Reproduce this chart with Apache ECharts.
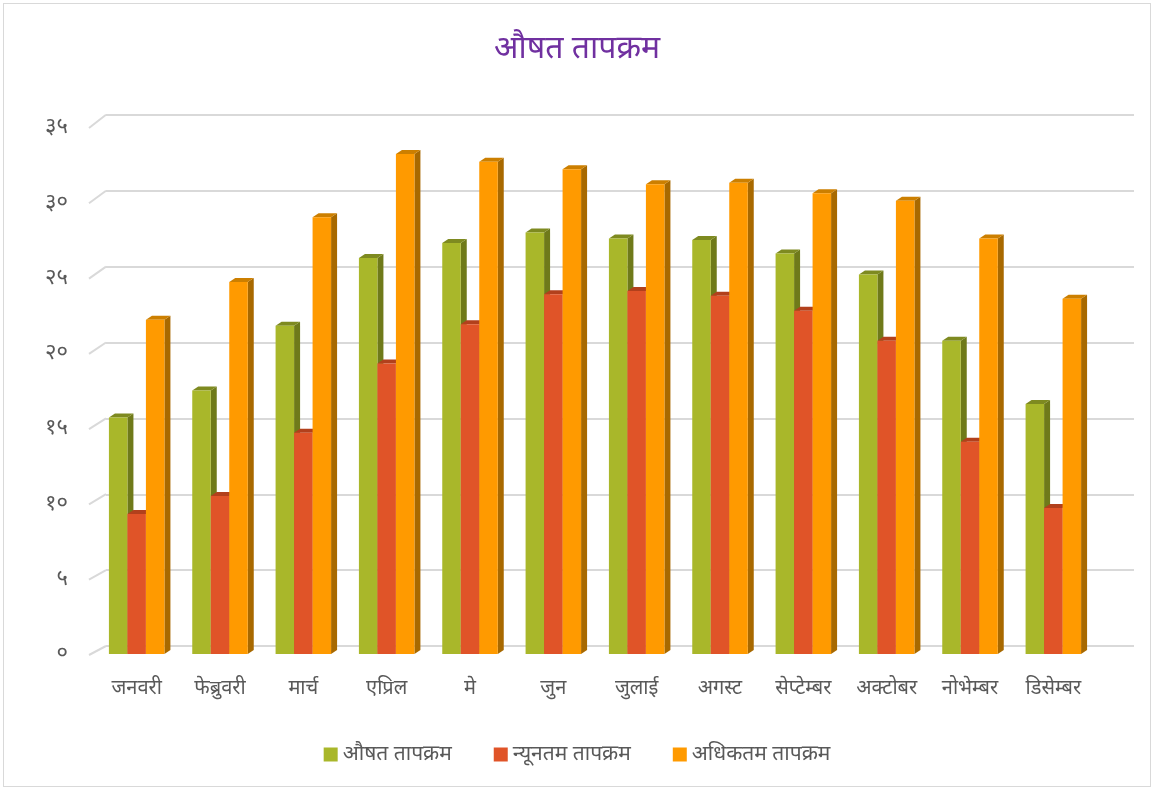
<!DOCTYPE html>
<html>
<head>
<meta charset="utf-8">
<script src="https://cdn.jsdelivr.net/npm/echarts@6/dist/echarts.min.js"></script>
<style>
  html, body { margin: 0; padding: 0; background: #fff; }
  #chart { position: absolute; left: 3px; top: 3px; width: 1148px; height: 784px; border: 1px solid #d9d9d9; box-sizing: border-box; }
</style>
</head>
<body>
<div id="chart"></div>
<script>
// महिना
var months = ['जनवरी', 'फेब्रुवरी', 'मार्च', 'एप्रिल', 'मे', 'जुन', 'जुलाई', 'अगस्ट', 'सेप्टेम्बर', 'अक्टोबर', 'नोभेम्बर', 'डिसेम्बर'];
// तापक्रम (°C)
var avgTemp = [15.7, 17.5, 21.8, 26.3, 27.3, 28.0, 27.6, 27.5, 26.6, 25.2, 20.8, 16.6];
var minTemp = [9.3, 10.5, 14.7, 19.3, 21.9, 23.9, 24.1, 23.8, 22.8, 20.8, 14.1, 9.7];
var maxTemp = [22.2, 24.7, 29.0, 33.2, 32.7, 32.2, 31.2, 31.3, 30.6, 30.1, 27.6, 23.6];
var seriesNames = ['औषत तापक्रम', 'न्यूनतम तापक्रम', 'अधिकतम तापक्रम'];
// y अक्षका अंक
var tickValues = [0, 5, 10, 15, 20, 25, 30, 35];
var tickLabels = ['०', '५', '१०', '१५', '२०', '२५', '३०', '३५'];

var FONT = 'Noto Sans, sans-serif';
var DX = 6, DY = 4; // bar depth

var palette = [
  { front: '#a9b72a', side: '#6f7a1a', top: '#7e8a20' },
  { front: '#e05428', side: '#a43a1a', top: '#b2401c' },
  { front: '#ff9a00', side: '#a86900', top: '#cc7f00' }
];

function toPairs(arr) {
  var out = [];
  for (var i = 0; i < arr.length; i++) out.push([i, arr[i]]);
  return out;
}

// 3D जस्तो स्तम्भ
function barRender(k) {
  var c = palette[k];
  return function (params, api) {
    var i = api.value(0), v = api.value(1);
    var base = api.coord([i, 0]);
    var top = api.coord([i, v]);
    var band = api.size([1, 0])[0];
    var w = band * 0.222;
    var x0 = base[0] - 1.5 * w + k * w;
    var x1 = x0 + w;
    var yb = base[1], yt = top[1];
    return {
      type: 'group',
      children: [
        { type: 'polygon', shape: { points: [[x1, yb], [x1 + DX, yb - DY], [x1 + DX, yt - DY], [x1, yt]] }, style: { fill: c.side } },
        { type: 'polygon', shape: { points: [[x0, yt], [x0 + DX, yt - DY], [x1 + DX, yt - DY], [x1, yt]] }, style: { fill: c.top } },
        { type: 'rect', shape: { x: x0, y: yt, width: w, height: yb - yt }, style: { fill: c.front } }
      ]
    };
  };
}

// ग्रिड रेखाको बायाँ तिरछा भाग
function stubRender(params, api) {
  var v = api.value(0);
  var p = api.coord([0, v]);
  var band = api.size([1, 0])[0];
  var x = p[0] - band / 2 - 6;
  return {
    type: 'line',
    shape: { x1: x, y1: p[1] + 1, x2: x + 17, y2: p[1] - 8 - v * 0.12 },
    style: { stroke: '#d9d9d9', lineWidth: 2 }
  };
}

var allSeries = [avgTemp, minTemp, maxTemp].map(function (arr, k) {
  return {
    name: seriesNames[k],
    type: 'custom',
    xAxisIndex: 0,
    yAxisIndex: 0,
    renderItem: barRender(k),
    itemStyle: { color: palette[k].front },
    encode: { x: 0, y: 1 },
    data: toPairs(arr),
    z: 3
  };
});
allSeries.unshift({
  type: 'custom',
  xAxisIndex: 0,
  yAxisIndex: 0,
  renderItem: stubRender,
  encode: { y: 0 },
  data: tickValues.map(function (v) { return [v]; }),
  silent: true,
  z: 1
});

var chart = echarts.init(document.getElementById('chart'));
chart.setOption({
  backgroundColor: '#fff',
  animation: false,
  title: {
    text: 'औषत तापक्रम',
    left: 'center',
    top: 24,
    textStyle: { color: '#7030a0', fontSize: 32, fontWeight: 'normal', fontFamily: FONT }
  },
  legend: {
    bottom: 16,
    left: 'center',
    itemGap: 42,
    itemWidth: 14,
    itemHeight: 14,
    icon: 'rect',
    data: seriesNames,
    textStyle: { color: '#595959', fontSize: 21, fontFamily: FONT }
  },
  grid: [
    { left: 91, right: 55, top: 123, bottom: 132 },
    { left: 102, right: 16, top: 111, bottom: 140 }
  ],
  xAxis: [
    {
      type: 'category',
      gridIndex: 0,
      data: months,
      axisLine: { show: false },
      axisTick: { show: false },
      axisLabel: { color: '#595959', fontSize: 20, margin: 24, fontFamily: FONT }
    },
    { type: 'value', gridIndex: 1, show: false }
  ],
  yAxis: [
    {
      type: 'value',
      gridIndex: 0,
      min: 0, max: 35, interval: 5,
      axisLine: { show: false },
      axisTick: { show: false },
      splitLine: { show: false },
      axisLabel: {
        color: '#595959', fontSize: 22, margin: 27, fontFamily: FONT,
        formatter: function (v) { return tickLabels[tickValues.indexOf(v)]; }
      }
    },
    {
      type: 'value',
      gridIndex: 1,
      min: 0, max: 35, interval: 5,
      axisLine: { show: false },
      axisTick: { show: false },
      axisLabel: { show: false },
      splitLine: { lineStyle: { color: '#d9d9d9', width: 2 } }
    }
  ],
  series: allSeries
});
</script>
</body>
</html>
